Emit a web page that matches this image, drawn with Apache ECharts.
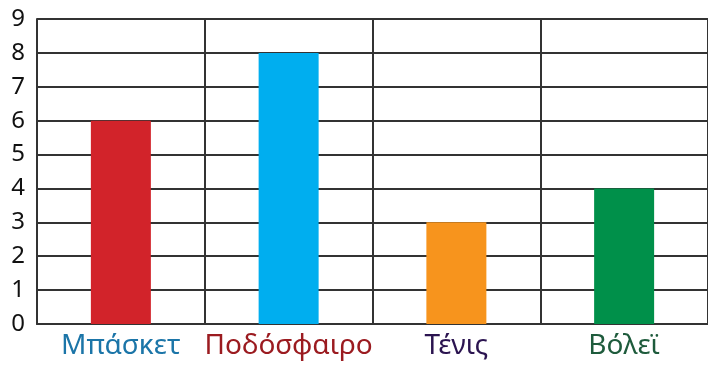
<!DOCTYPE html>
<html>
<head>
<meta charset="utf-8">
<script src="https://cdn.jsdelivr.net/npm/echarts@6/dist/echarts.min.js"></script>
<style>
html, body { margin: 0; padding: 0; background: #fff; }
#main { width: 708px; height: 367px; }
</style>
</head>
<body>
<div id="main"></div>
<script>
// αθλήματα και πλήθος μαθητών
const sports = ['Μπάσκετ', 'Ποδόσφαιρο', 'Τένις', 'Βόλεϊ']
const counts = [6, 8, 3, 4]
const barColors = ['#d2232a', '#00aeef', '#f7941d', '#00904a']
const labelColors = ['#1b75a8', '#9b1b20', '#2b1450', '#1e5b3c']
const yTicks = [0, 1, 2, 3, 4, 5, 6, 7, 8, 9]

const chart = echarts.init(document.getElementById('main'), null, {
  width: 708,
  height: 367
})

// ένα στυλ για κάθε ετικέτα κατηγορίας
const rich = {}
labelColors.forEach((c, i) => {
  rich['c' + i] = {
    color: c,
    fontFamily: 'Noto Sans',
    fontSize: 28
  }
})

const option = {
  backgroundColor: '#fff',
  animation: false,
  grid: {
    left: 37,
    right: -3,
    top: 19,
    bottom: 43
  },
  xAxis: {
    type: 'category',
    data: sports,
    axisTick: { show: false },
    axisLine: {
      lineStyle: { color: '#333', width: 2 }
    },
    axisLabel: {
      interval: 0,
      margin: 8,
      formatter: (val) => '{c' + sports.indexOf(val) + '|' + val + '}',
      rich: rich
    },
    splitLine: {
      show: true,
      interval: 0,
      lineStyle: { color: '#333', width: 2 }
    }
  },
  yAxis: {
    type: 'value',
    min: yTicks[0],
    max: yTicks[yTicks.length - 1],
    interval: 1,
    axisLine: {
      show: true,
      lineStyle: { color: '#333', width: 2 }
    },
    axisTick: { show: false },
    axisLabel: {
      margin: 12,
      fontFamily: 'Noto Sans',
      fontSize: 24,
      color: '#111'
    },
    splitLine: {
      lineStyle: { color: '#333', width: 2 }
    }
  },
  series: [{
    type: 'bar',
    barWidth: 60,
    data: counts.map((v, i) => ({
      value: v,
      itemStyle: { color: barColors[i] }
    }))
  }]
}
chart.setOption(option)
</script>
</body>
</html>
